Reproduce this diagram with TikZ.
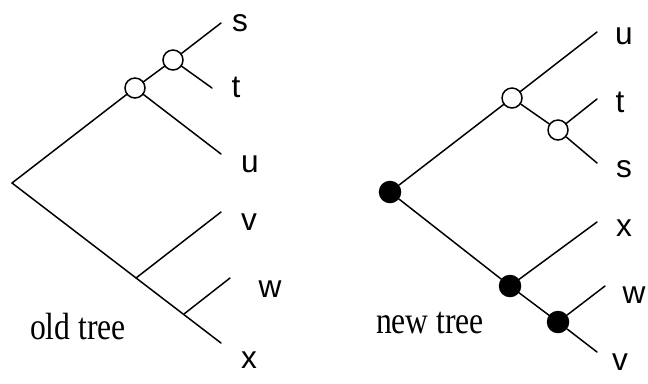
\documentclass[tikz,border=0pt]{standalone}
\usepackage{fontspec}
\usepackage{graphicx}
\setmainfont{Liberation Serif}
\setsansfont{Liberation Sans}
\usetikzlibrary{positioning}
\tikzset{
  branch/.style={line width=0.85pt, line cap=round},
  opennode/.style={circle, draw, line width=0.85pt, fill=white, minimum size=0.4cm, inner sep=0pt},
  fullnode/.style={circle, draw, line width=0.85pt, fill=black, minimum size=0.42cm, inner sep=0pt},
  leaflabel/.style={font=\sffamily\fontsize{18}{18}\selectfont, inner sep=0pt},
  treename/.style={font=\fontsize{18}{18}\selectfont, inner sep=0pt, anchor=base}
}

\begin{document}
\begin{tikzpicture}[x=0.02cm, y=-0.02cm]
  \useasboundingbox (0,0) rectangle (648,383);

  % old tree
  \coordinate (oroot) at (12,183);
  \node[opennode] (oa) at (135,88) {};
  \node[opennode] (ob) at (173,60) {};
  \coordinate (ov) at (136,278);
  \coordinate (ow) at (184,314);
  \coordinate (os) at (221,23);
  \coordinate (ot) at (212,88);
  \coordinate (ou) at (221,154);
  \coordinate (ovl) at (221,212);
  \coordinate (owl) at (230,278);
  \coordinate (ox) at (221,343);
  \foreach \a/\b in {oroot/oa, oa/ob, ob/os, ob/ot, oa/ou, oroot/ox, ov/ovl, ow/owl} {
    \draw[branch] (\a) -- (\b);
  }
  \node[leaflabel] (ls) at (240,23.5) {s};
  \node[leaflabel] (lt) at (236,87.5) {t};
  \node[leaflabel] (lu) at (250,164) {u};
  \node[leaflabel] (lv) at (249,222) {v};
  \node[leaflabel] (lw) at (270,289) {w};
  \node[leaflabel] (lx) at (249,360) {x};
  \node[treename] (oldname) at (78,339) {\scalebox{1}[1.2]{old tree}};

  % new tree
  \node[fullnode] (nroot) at (390,192) {};
  \node[opennode] (na) at (512,98) {};
  \node[opennode] (nb) at (558,130) {};
  \node[fullnode] (nc) at (510,286) {};
  \node[fullnode] (nd) at (558,322) {};
  \coordinate (nu) at (597,32);
  \coordinate (nt) at (597,99);
  \coordinate (ns) at (597,163);
  \coordinate (nx) at (597,222);
  \coordinate (nw) at (605,286);
  \coordinate (nv) at (597,352);
  \foreach \a/\b in {nroot/na, na/nu, na/nb, nb/nt, nb/ns, nroot/nc, nc/nx, nc/nd, nd/nw, nd/nv} {
    \draw[branch] (\a) -- (\b);
  }
  \node[leaflabel] (mu) at (624,36) {u};
  \node[leaflabel] (mt) at (620,102) {t};
  \node[leaflabel] (ms) at (624,169) {s};
  \node[leaflabel] (mx) at (624,228) {x};
  \node[leaflabel] (mw) at (634,295) {w};
  \node[leaflabel] (mv) at (620,362) {v};
  \node[treename] (newname) at (430,333) {\scalebox{1}[1.2]{new tree}};
\end{tikzpicture}
\end{document}
